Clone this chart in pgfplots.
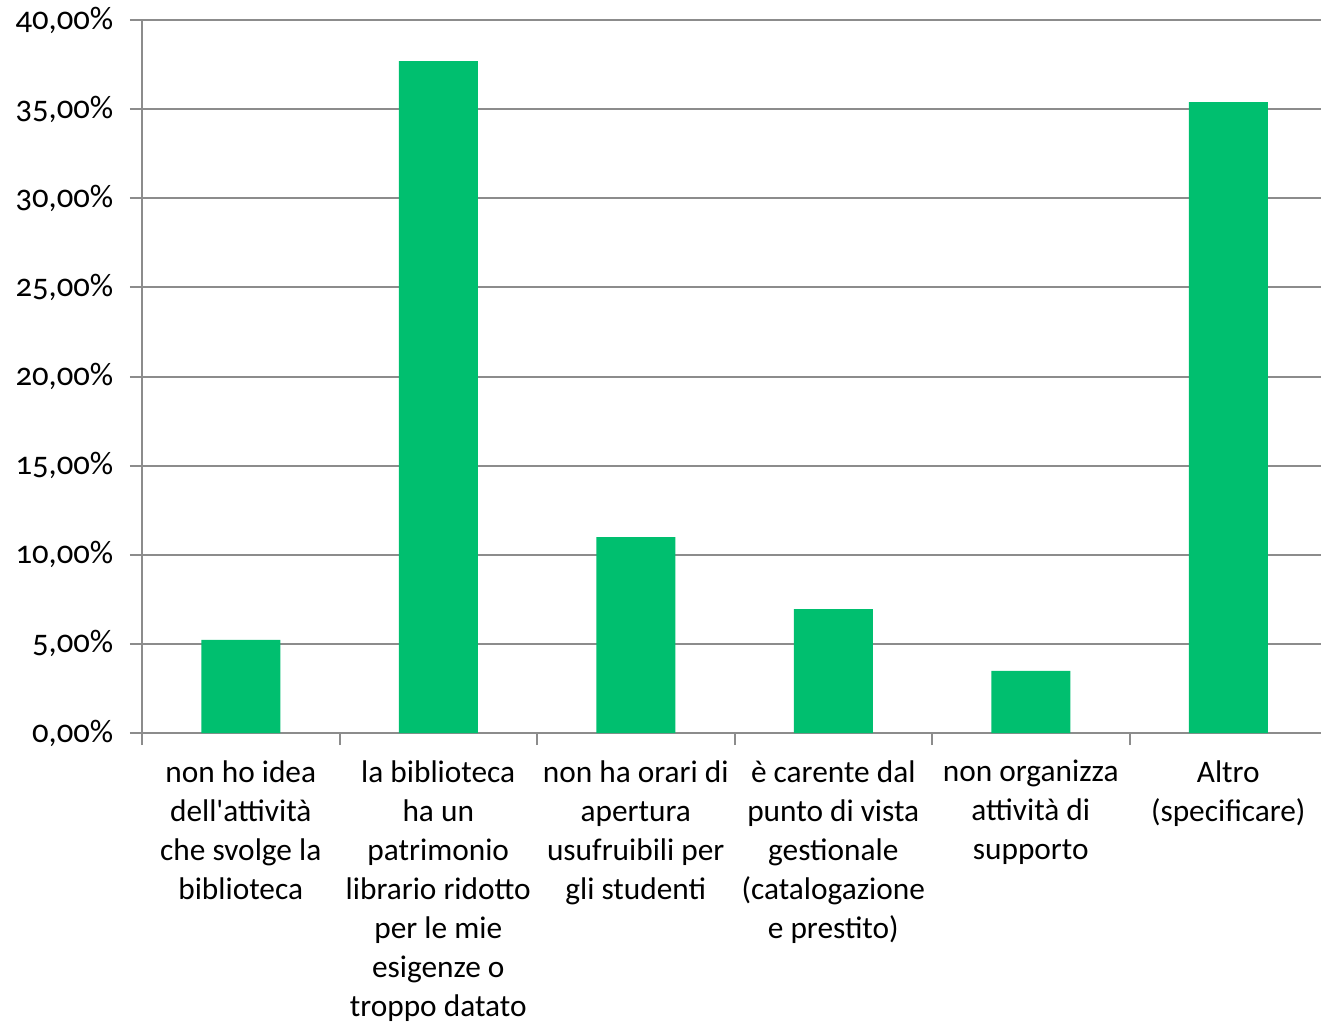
\documentclass[border=0pt]{standalone}
\usepackage{fontspec}
\setmainfont{Carlito}[Numbers=OldStyle, Ligatures=TeXOff]
\usepackage{pgfplots}
\pgfplotsset{compat=1.18}
\definecolor{barg}{HTML}{00BF6F}
\definecolor{gridg}{HTML}{8C8C8C}
\begin{document}
\begin{tikzpicture}
\useasboundingbox (0pt,0pt) rectangle (990.75pt,768.75pt);
\begin{axis}[
    at={(106.5pt,219pt)}, anchor=south west,
    scale only axis,
    width=888.75pt, height=534.75pt,
    xmin=-0.5, xmax=5.5,
    ymin=0, ymax=40,
    axis lines=left,
    axis line style={-, gridg, line width=1.5pt},
    ymajorgrids,
    grid style={gridg, line width=1.5pt},
    tick align=outside,
    major tick length=9pt,
    minor tick length=9pt,
    tick style={gridg, line width=1.5pt},
    ytick={0,5,...,40},
    yticklabels={{0,00\%},{5,00\%},{10,00\%},{15,00\%},{20,00\%},{25,00\%},{30,00\%},{35,00\%},{40,00\%}},
    yticklabel style={font=\fontsize{24.5}{28}\selectfont, text=black, xshift=-9pt},
    xtick={0,...,5},
    major x tick style={draw=none},
    minor xtick={-0.5,0.5,1.5,2.5,3.5,4.5},
    minor x tick style={gridg, line width=1.5pt},
    xticklabels={
      {non ho idea\\dell'attività\\che svolge la\\biblioteca},
      {la biblioteca\\ha un\\patrimonio\\librario ridotto\\per le mie\\esigenze o\\troppo datato},
      {non ha orari di\\apertura\\usufruibili per\\gli studenti},
      {è carente dal\\punto di vista\\gestionale\\(catalogazione\\e prestito)},
      {non organizza\\attività di\\supporto},
      {Altro\\(specificare)}},
    xticklabel style={font=\fontsize{23.5}{29.25}\selectfont, text=black, align=center, anchor=north, yshift=-8pt},
]
\addplot[ybar, bar width=0.4, fill=barg, draw=none] coordinates {
  (0,5.22) (1,37.69) (2,10.99) (3,6.95) (4,3.48) (5,35.39)
};
\end{axis}
\end{tikzpicture}
\end{document}
